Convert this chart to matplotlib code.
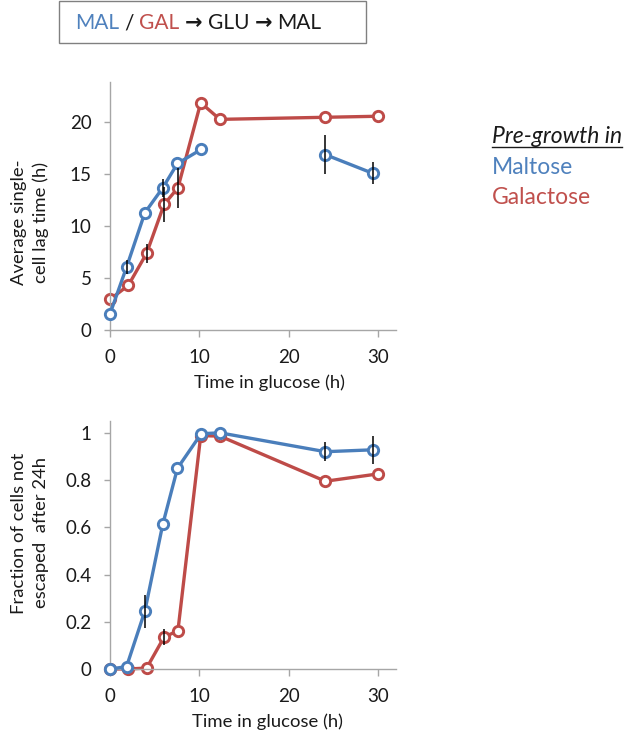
import numpy as np
import matplotlib
matplotlib.use("Agg")
import matplotlib.pyplot as plt
from matplotlib.lines import Line2D

plt.rcParams['font.family'] = ['Lato', 'DejaVu Sans']

# ---------------- data ----------------
mal_x = [0, 1.85, 3.9, 5.9, 7.55, 10.2, 12.3, 24.1, 29.4]
gal_x = [0, 2.05, 4.1, 6.05, 7.6, 10.15, 12.3, 24.1, 30.0]

lag_mal = [1.55, 6.05, 11.3, 13.7, 16.05, 17.4, np.nan, 16.9, 15.1]
lag_mal_err = [0, 0.7, 0, 0.86, 0, 0, 0, 1.85, 1.07]
lag_gal = [2.95, 4.3, 7.4, 12.1, 13.7, 21.9, 20.3, 20.5, 20.6]
lag_gal_err = [0, 0, 0.9, 1.65, 1.9, 0, 0, 0, 0]

frac_mal = [0, 0.01, 0.245, 0.612, 0.85, 0.996, 1.0, 0.92, 0.928]
frac_mal_err = [0, 0, 0.07, 0, 0, 0, 0, 0.04, 0.06]
frac_gal = [0, 0, 0.004, 0.135, 0.162, 0.988, 0.986, 0.795, 0.826]
frac_gal_err = [0, 0, 0, 0.035, 0, 0, 0, 0, 0]

x_ticks = [0, 10, 20, 30]
lag_ticks = [0, 5, 10, 15, 20]
frac_ticks = [0, 0.2, 0.4, 0.6, 0.8, 1.0]
frac_ticklabels = ['0', '0.2', '0.4', '0.6', '0.8', '1']

BLUE = '#4a7ebb'
RED = '#be4b48'
GREY = '#a6a6a6'
TXT = '#1a1a1a'

W, H = 630, 734
fig = plt.figure(figsize=(W / 100, H / 100), dpi=100)


def fx(px):
    return px / W


def fy(py):
    return 1 - py / H


ax1 = fig.add_axes([fx(110), fy(330), 286 / W, 248 / H])
ax2 = fig.add_axes([fx(110), fy(669), 286 / W, 248 / H])


def draw_series(ax, x, y, err, color, z):
    x = np.asarray(x, float)
    y = np.asarray(y, float)
    err = np.asarray(err, float)
    ax.plot(x, y, '-', color=color, lw=2.4, zorder=z, clip_on=False,
            solid_capstyle='round')
    ax.plot(x, y, 'o', ms=7.4, mew=2.1, mec=color, mfc='white',
            zorder=z + 0.5, clip_on=False)
    m = err > 0
    ax.errorbar(x[m], y[m], yerr=err[m], fmt='none', ecolor='black',
                elinewidth=1.1, capsize=0, zorder=10, clip_on=False)


def style(ax, ylim, yticks, yticklabels=None):
    ax.set_xlim(0, 32)
    ax.set_ylim(*ylim)
    for s in ['top', 'right']:
        ax.spines[s].set_visible(False)
    for s in ['left', 'bottom']:
        ax.spines[s].set_color(GREY)
        ax.spines[s].set_linewidth(1.0)
    ax.set_xticks(x_ticks)
    ax.set_yticks(yticks)
    if yticklabels is not None:
        ax.set_yticklabels(yticklabels)
    ax.tick_params(axis='both', direction='out', color=GREY, width=1.0,
                   labelsize=13.5, labelcolor=TXT)
    ax.tick_params(axis='y', length=4.3, pad=9)
    ax.tick_params(axis='x', length=5, pad=8.5)


draw_series(ax1, gal_x, lag_gal, lag_gal_err, RED, 2)
draw_series(ax1, mal_x, lag_mal, lag_mal_err, BLUE, 3)
style(ax1, (0, 23.9), lag_ticks)

draw_series(ax2, gal_x, frac_gal, frac_gal_err, RED, 2)
draw_series(ax2, mal_x, frac_mal, frac_mal_err, BLUE, 3)
style(ax2, (0, 1.05), frac_ticks, frac_ticklabels)

# axis labels
lab_kw = dict(fontsize=13.3, color=TXT, ha='center', va='center',
              multialignment='center', linespacing=1.45)
fig.text(fx(30), fy(222), "Average single-\ncell lag time (h)", rotation=90, **lab_kw)
fig.text(fx(30), fy(533), "Fraction of cells not\nescaped  after 24h", rotation=90, **lab_kw)
fig.text(fx(270), fy(383), "Time in glucose (h)", **lab_kw)
fig.text(fx(268), fy(721.5), "Time in glucose (h)", **lab_kw)

# legend texts
fig.text(fx(492), fy(174), "Maltose", color='#4f81bd', fontsize=16.5, va='baseline')
fig.text(fx(492), fy(204), "Galactose", color='#c0504d', fontsize=16.5, va='baseline')
tp = fig.text(fx(492), fy(143), "Pre-growth in", color=TXT, fontsize=16.5,
              style='italic', va='baseline')

renderer = fig.canvas.get_renderer()
bb = tp.get_window_extent(renderer)
fig.add_artist(Line2D([bb.x0 / W, bb.x1 / W], [fy(146.5), fy(146.5)],
                      color=TXT, lw=1.0, transform=fig.transFigure))

# title box
fig.add_artist(plt.Rectangle((fx(59), fy(43)), 307 / W, 42 / H, fill=False,
                             edgecolor='#808080', lw=1.0, transform=fig.transFigure))
pieces = [("MAL", '#4f81bd', {}), ("/", TXT, {}), ("GAL", '#c0504d', {}),
          ("\u2192", TXT, {'family': 'DejaVu Sans', 'fontweight': 'bold'}),
          ("GLU", TXT, {}),
          ("\u2192", TXT, {'family': 'DejaVu Sans', 'fontweight': 'bold'}),
          ("MAL", TXT, {})]
sp = fig.text(0, 0, "a a", fontsize=15)
sp2 = fig.text(0, 0, "aa", fontsize=15)
space_w = (sp.get_window_extent(renderer).width - sp2.get_window_extent(renderer).width) / W
sp.remove()
sp2.remove()
xpos = fx(75)
for s, c, kw in pieces:
    t = fig.text(xpos, fy(29), s, color=c, fontsize=15, va='baseline', **kw)
    e = t.get_window_extent(renderer)
    xpos = e.x1 / W + space_w

fig.savefig("out.png", dpi=100)
